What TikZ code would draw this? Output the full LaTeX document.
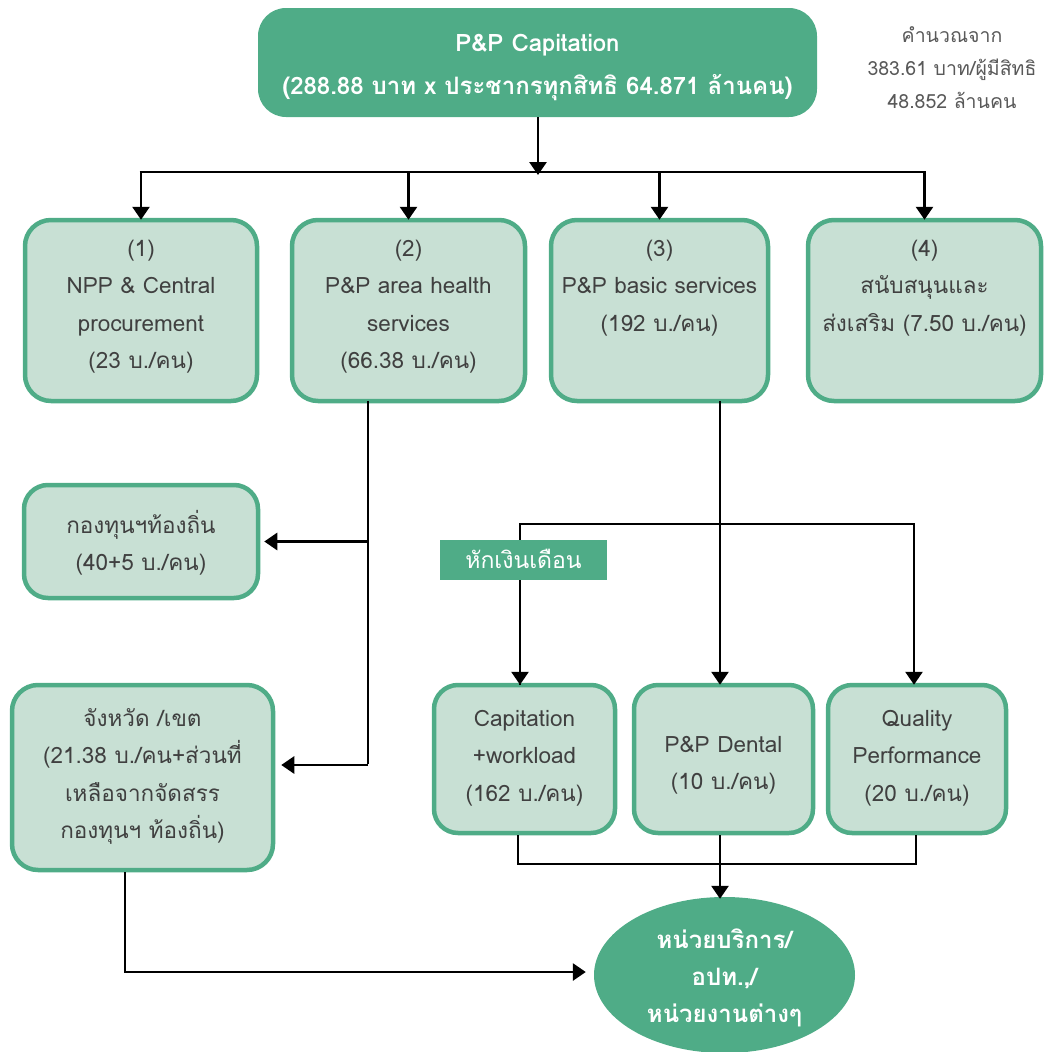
\documentclass[tikz,border=0pt]{standalone}
\usepackage{fontspec}
\setmainfont[Script=Thai]{Loma}
\usetikzlibrary{arrows.meta,shapes.geometric}
\definecolor{pgreen}{HTML}{4FAC87}
\definecolor{plight}{HTML}{C8E0D4}
\definecolor{ptext}{HTML}{404040}
\definecolor{pnote}{HTML}{595959}
\begin{document}
\begin{tikzpicture}[x=1pt,y=-1pt,
  box/.style={draw=pgreen, line width=4.5pt, fill=plight, rounded corners=26pt, inner sep=0pt},
  txt/.style={anchor=base, align=center, text=ptext, font=\fontsize{22.5}{37.5}\selectfont, inner sep=0pt},
  wtxt/.style={anchor=base, align=center, text=white, font=\bfseries\fontsize{24}{37}\selectfont, inner sep=0pt},
  conn/.style={line width=2.8pt},
  arr/.style={line width=2.8pt, -{Triangle[width=17pt,length=13pt]}}
]
\useasboundingbox (0,0) rectangle (1046,1052);

% top
\node[fill=pgreen, rounded corners=28pt, minimum width=559pt, minimum height=109pt, inner sep=0pt] (top) at (537.5,62.5) {};
\node[anchor=base, align=center, text=white, font=\bfseries\fontsize{24}{43}\selectfont, inner sep=0pt] (toptxt) at (537.5,94) {P\&P Capitation\\(288.88 บาท x ประชากรทุกสิทธิ 64.871 ล้านคน)};
\node[anchor=base, align=center, text=pnote, font=\fontsize{19.5}{33}\selectfont, inner sep=0pt] (note) at (952,108) {คำนวณจาก\\383.61 บาท/ผู้มีสิทธิ\\48.852 ล้านคน};

% row 1
\node[box, minimum width=232pt, minimum height=181pt] (b1) at (141,310.5) {};
\node[box, minimum width=233pt, minimum height=181pt] (b2) at (408.5,310.5) {};
\node[box, minimum width=217pt, minimum height=181pt] (b3) at (659.5,310.5) {};
\node[box, minimum width=233pt, minimum height=181pt] (b4) at (924.5,310.5) {};
\node[txt] (t1) at (141,368.5) {(1)\\NPP \& Central\\procurement\\(23 บ./คน)};
\node[txt] (t2) at (408.5,368.5) {(2)\\P\&P area health\\services\\(66.38 บ./คน)};
\node[txt] (t3) at (659.5,331) {(3)\\P\&P basic services\\(192 บ./คน)};
\node[txt] (t4) at (924.5,331) {(4)\\สนับสนุนและ\\ส่งเสริม (7.50 บ./คน)};

% bus
\coordinate (bus) at (538,172);
\draw[arr] (top.south -| bus) -- ([yshift=-3pt]bus);
\draw[conn] ([xshift=-1.4pt]b1.north |- bus) -- ([xshift=1.4pt]b4.north |- bus);
\foreach \b in {b1,b2,b3,b4}{\draw[arr] (\b.north |- bus) -- ([yshift=-2pt]\b.north);}

% left column
\node[box, minimum width=234pt, minimum height=113pt, rounded corners=24pt] (lf) at (141,541.5) {};
\node[txt] (tlf) at (141,570.5) {กองทุนฯท้องถิ่น\\(40+5 บ./คน)};
\node[box, minimum width=261pt, minimum height=185pt] (pv) at (142.5,777.5) {};
\node[txt] (tpv) at (142.5,838.5) {จังหวัด /เขต\\(21.38 บ./คน+ส่วนที่\\เหลือจากจัดสรร\\กองทุนฯ ท้องถิ่น)};

\coordinate (b2out) at (368,401);
\coordinate (b2end) at (368,765);
\draw[conn] (b2out) -- ([yshift=1.4pt]b2end);
\draw[arr] (b2out |- lf.east) -- ([xshift=4pt]lf.east);
\draw[arr] (b2end) -- ([xshift=6pt]pv.east |- b2end);

% row 3
\node[box, minimum width=181pt, minimum height=148pt, rounded corners=24pt] (cw) at (524.5,759) {};
\node[box, minimum width=179pt, minimum height=148pt, rounded corners=24pt] (dn) at (723.5,759) {};
\node[box, minimum width=178pt, minimum height=148pt, rounded corners=24pt] (qp) at (917,759) {};
\node[txt] (tcw) at (524.5,801) {Capitation\\+workload\\(162 บ./คน)};
\node[txt] (tdn) at (723.5,789.5) {P\&P Dental\\(10 บ./คน)};
\node[txt] (tqp) at (917,801) {Quality\\Performance\\(20 บ./คน)};

\coordinate (b3out) at (720,401);
\draw[arr] (b3out) -- ([yshift=-2pt]dn.north -| b3out);
\coordinate (sl) at (520,524);
\coordinate (sr) at (914,524);
\draw[arr] ([yshift=-2pt]cw.north -| sl) |- (sr) -- ([yshift=-2pt]qp.north -| sr);
\draw[arr] (sl) -- ([yshift=-2pt]cw.north -| sl);
\node[fill=pgreen, minimum width=167pt, minimum height=40pt, inner sep=0pt] (cut) at (523.5,560) {};
\node[anchor=base, text=white, font=\fontsize{23}{37}\selectfont, inner sep=0pt] (tcut) at (523.5,568) {หักเงินเดือน};

% ellipse
\node[ellipse, fill=pgreen, minimum width=261pt, minimum height=156pt, inner sep=0pt] (unit) at (724.5,975) {};
\node[wtxt] (tunit) at (724.5,1022) {หน่วยบริการ/\\อปท.,/\\หน่วยงานต่างๆ};

\coordinate (jn) at (720,864);
\draw[conn] (518,835) |- (916,864) -- (916,835);
\draw[conn] (720,835) -- (jn);
\draw[arr] (jn) -- ([yshift=-2pt]unit.north -| jn);

\coordinate (pvout) at (125,872);
\draw[arr] (pvout) |- ([xshift=-8pt]unit.west |- 0,972);
\end{tikzpicture}
\end{document}
